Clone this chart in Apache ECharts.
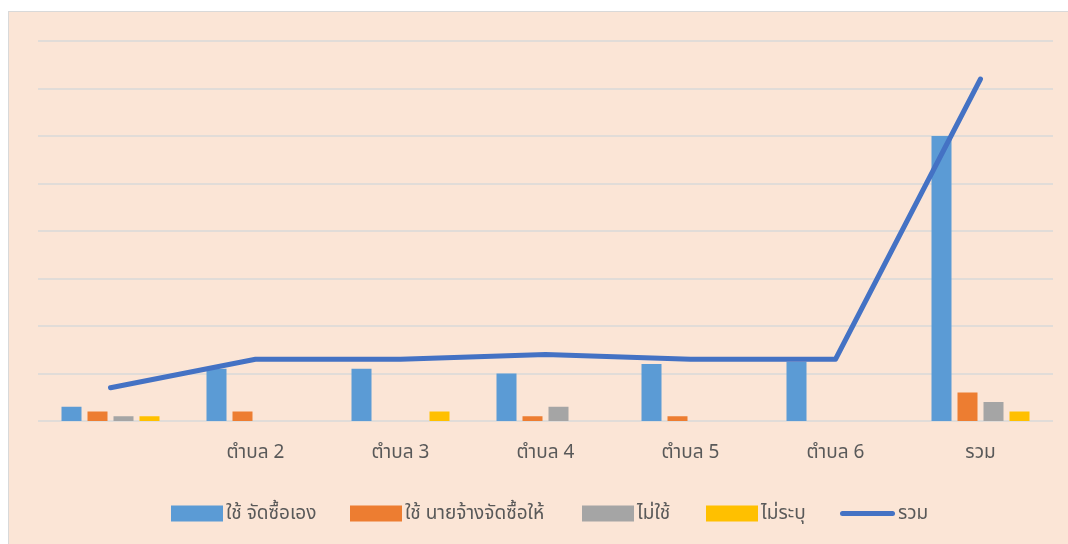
<!DOCTYPE html>
<html>
<head>
<meta charset="utf-8">
<script src="https://cdn.jsdelivr.net/npm/echarts@6/dist/echarts.min.js"></script>
<style>
  html, body { margin: 0; padding: 0; background: #ffffff; width: 1068px; height: 544px; overflow: hidden; }
  #bg { position: absolute; left: 8px; top: 11px; width: 1070px; height: 540px; background: #FBE5D6; border: 1.5px solid #D9D9D9; }
  #chart { position: absolute; left: 0; top: 0; width: 1068px; height: 544px; }
</style>
</head>
<body>
<div id="bg"></div>
<div id="chart"></div>
<script>
const categories = ['', 'ตำบล 2', 'ตำบล 3', 'ตำบล 4', 'ตำบล 5', 'ตำบล 6', 'รวม'];
const seriesNames = ['ใช้ จัดซื้อเอง', 'ใช้ นายจ้างจัดซื้อให้', 'ไม่ใช้', 'ไม่ระบุ', 'รวม'];
const selfBuy = [6, 22, 22, 20, 24, 25, 120];
const employerBuy = [4, 4, 0, 2, 2, 0, 12];
const notUsed = [2, 0, 0, 6, 0, 0, 8];
const unspecified = [2, 0, 4, 0, 0, 0, 4];
const totals = [14, 26, 26, 28, 26, 26, 144];

const colors = ['#5B9BD5', '#ED7D31', '#A5A5A5', '#FFC000', '#4472C4'];
const fontFam = '"Noto Sans", "Noto Sans Thai", sans-serif';
const legendLefts = [171, 350, 582, 706, 840];

const chart = echarts.init(document.getElementById('chart'), null, { renderer: 'canvas' });
const barData = [selfBuy, employerBuy, notUsed, unspecified];
const series = barData.map((d, i) => ({
  name: seriesNames[i],
  type: 'bar',
  data: d.map(v => v === 0 ? null : v),
  barWidth: 20,
  barGap: '30%',
  itemStyle: { color: colors[i] },
  z: 2
}));
series.push({
  name: seriesNames[4],
  type: 'line',
  data: totals,
  symbol: 'none',
  lineStyle: { color: colors[4], width: 5, cap: 'round', join: 'round' },
  itemStyle: { color: colors[4] },
  z: 3
});

const legends = seriesNames.map((n, i) => ({
  left: legendLefts[i], top: 504, padding: 0,
  itemWidth: i === 4 ? 55 : 52, itemHeight: 16,
  symbolKeepAspect: true,
  selectedMode: false,
  textStyle: { color: '#595959', fontSize: 19, fontFamily: fontFam, padding: [0, 0, 0, -2] },
  data: [{
    name: n,
    icon: i === 4 ? 'path://M2.5,0 L52.5,0 A2.5,2.5 0 0 1 52.5,5 L2.5,5 A2.5,2.5 0 0 1 2.5,0 Z' : 'rect',
    itemStyle: { color: colors[i] }
  }]
}));

chart.setOption({
  animation: false,
  backgroundColor: 'transparent',
  color: colors,
  textStyle: { fontFamily: fontFam },
  grid: { left: 38, right: 15, top: 41, bottom: 123, containLabel: false },
  xAxis: {
    type: 'category',
    data: categories,
    axisLine: { show: false },
    axisTick: { show: false },
    axisLabel: { color: '#595959', fontSize: 19, margin: 22, fontFamily: fontFam }
  },
  yAxis: {
    type: 'value',
    min: 0, max: 160, interval: 20,
    axisLabel: { show: false },
    axisLine: { show: false },
    axisTick: { show: false },
    splitLine: { lineStyle: { color: '#D9D9D9', width: 1.5 } }
  },
  legend: legends,
  series: series
});
</script>
</body>
</html>
